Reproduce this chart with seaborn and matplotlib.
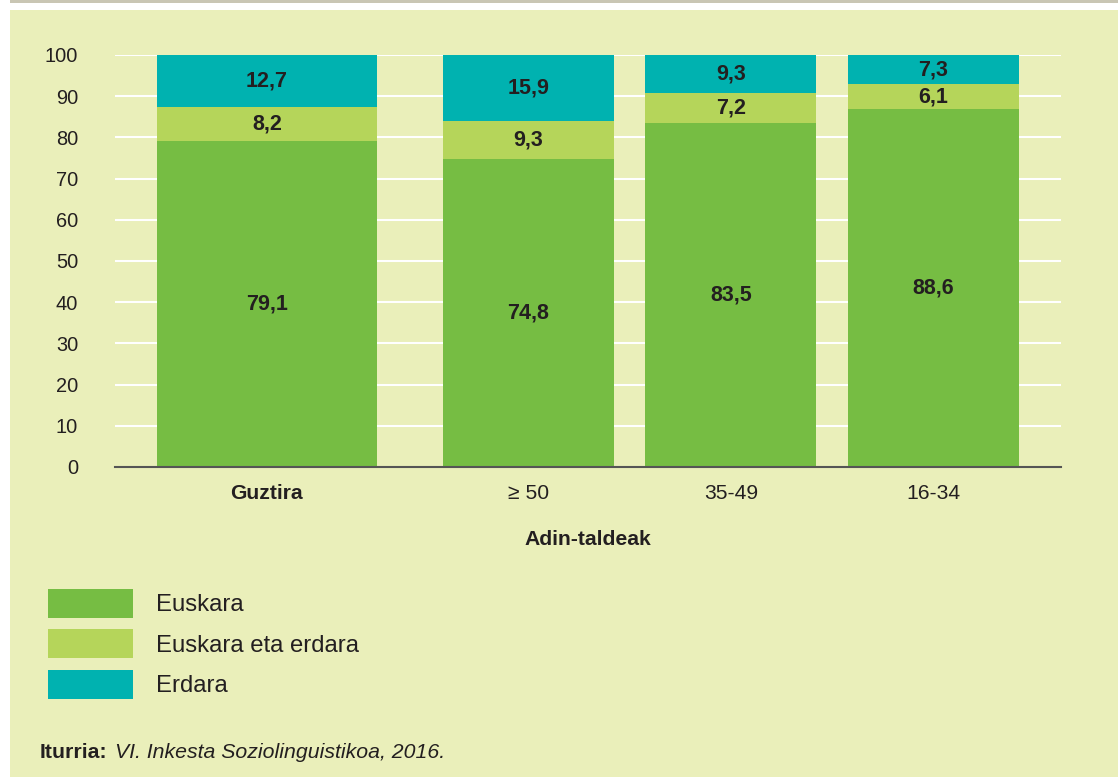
import pandas as pd
import seaborn as sns
import matplotlib.pyplot as plt
from matplotlib.patches import Patch, Rectangle

# datuak
groups = ['Guztira', '≥ 50', '35-49', '16-34']
euskara = [79.1, 74.8, 83.5, 88.6]
biak = [8.2, 9.3, 7.2, 6.1]
erdara = [12.7, 15.9, 9.3, 7.3]
series_names = ['Euskara', 'Euskara eta erdara', 'Erdara']
yticks = [0, 10, 20, 30, 40, 50, 60, 70, 80, 90, 100]

colors = ['#76BD43', '#B5D55A', '#00B2B0']
bg = '#EAEFBA'
txt = '#231F20'

sns.set_theme(style='white')
plt.rcParams['font.family'] = ['Liberation Sans', 'DejaVu Sans']

df = pd.DataFrame({'group': groups, 'Euskara': euskara,
                   'Euskara eta erdara': biak, 'Erdara': erdara})
# barra guztiak 100era eraman
tot = df[series_names].sum(axis=1)
share = df[series_names].div(tot, axis=0) * 100
cum = share.cumsum(axis=1)

fig = plt.figure(figsize=(11.18, 7.77), dpi=100, facecolor='white')
fig.patches.append(Rectangle((10 / 1118, 0), 1, 1 - 10 / 777, transform=fig.transFigure,
                             facecolor=bg, edgecolor='none', zorder=-5))
fig.patches.append(Rectangle((10 / 1118, 1 - 3 / 777), 1, 3 / 777, transform=fig.transFigure,
                             facecolor='#C9C6B4', edgecolor='none', zorder=-5))

ax = fig.add_axes([115 / 1118, 310 / 777, 946 / 1118, 412 / 777])
ax.set_facecolor('none')

# atzetik aurrera marraztu (metatua)
for i in range(2, -1, -1):
    sns.barplot(x=df['group'], y=cum[series_names[i]], order=groups,
                color=colors[i], saturation=1, ax=ax, zorder=2)

# barren kokapena eta zabalera
centers = [-0.29, 1, 2, 3]
widths = [1.09, 0.845, 0.845, 0.845]
for cont in ax.containers:
    for j, p in enumerate(cont.patches):
        p.set_x(centers[j] - widths[j] / 2)
        p.set_width(widths[j])
        p.set_edgecolor('none')

# balioak
for i, name in enumerate(series_names):
    for j in range(len(groups)):
        mid = cum[name][j] - share[name][j] / 2
        ax.text(centers[j], mid, f'{df[name][j]:.1f}'.replace('.', ','),
                ha='center', va='center', fontsize=15.5, fontweight='bold',
                color=txt, zorder=5)

ax.set_xlim(-1.04, 3.63)
ax.set_ylim(0, 100)
ax.set_yticks(yticks)
ax.set_xticks(centers)
ax.set_xticklabels(groups)
ax.get_xticklabels()[0].set_fontweight('bold')
for y in yticks[1:]:
    ax.axhline(y, color='white', lw=1.5, zorder=1)
ax.tick_params(axis='y', length=0, pad=26.5, labelsize=14.4, labelcolor=txt)
ax.tick_params(axis='x', length=0, pad=12.5, labelsize=15.2, labelcolor=txt)
ax.set_ylabel('')
ax.set_xlabel('Adin-taldeak', fontsize=15.2, fontweight='bold', color=txt, labelpad=19)
for s in ['top', 'right', 'left']:
    ax.spines[s].set_visible(False)
ax.spines['bottom'].set_color('#555555')
ax.spines['bottom'].set_linewidth(1.5)
ax.spines['bottom'].set_zorder(6)

handles = [Patch(facecolor=c, edgecolor='none') for c in colors]
fig.legend(handles, series_names, loc='upper left',
           bbox_to_anchor=(48 / 1118, 1 - 589 / 777), frameon=False,
           fontsize=17.2, handlelength=3.56, handleheight=1.49, labelspacing=0.48,
           handletextpad=0.96, borderpad=0, borderaxespad=0, labelcolor=txt)

fig.text(40 / 1118, 1 - 752 / 777, 'Iturria:', fontsize=15.3, fontweight='bold',
         color=txt, va='center')
fig.text(115 / 1118, 1 - 752 / 777, 'VI. Inkesta Soziolinguistikoa, 2016.',
         fontsize=15.3, fontstyle='italic', color=txt, va='center')

plt.savefig('out.png', dpi=100, facecolor=fig.get_facecolor())
